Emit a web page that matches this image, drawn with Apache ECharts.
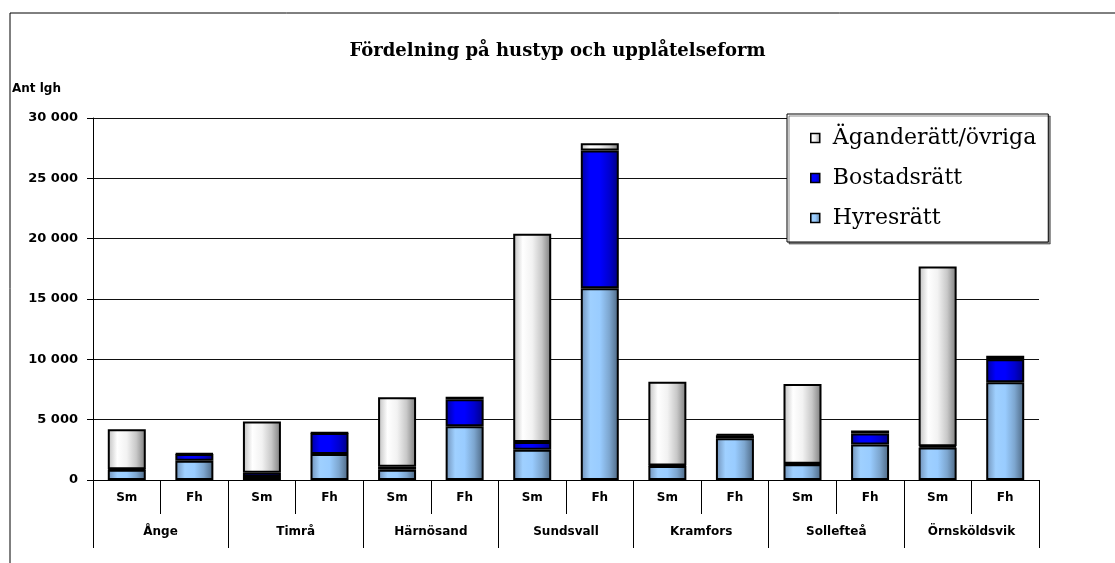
<!DOCTYPE html>
<html>
<head>
<meta charset="utf-8">
<script src="https://cdn.jsdelivr.net/npm/echarts@6/dist/echarts.min.js"></script>
<style>
  html, body { margin: 0; padding: 0; background: #fff; }
  #chart { width: 1115px; height: 563px; }
</style>
</head>
<body>
<div id="chart"></div>
<script>
  // kommuner och hustyp (Sm = småhus, Fh = flerbostadshus)
  var towns = ['Ånge', 'Timrå', 'Härnösand', 'Sundsvall', 'Kramfors', 'Sollefteå', 'Örnsköldsvik']
  var houseTypes = ['Sm', 'Fh', 'Sm', 'Fh', 'Sm', 'Fh', 'Sm', 'Fh', 'Sm', 'Fh', 'Sm', 'Fh', 'Sm', 'Fh']
  var hyresratt = [850, 1600, 250, 2150, 850, 4450, 2500, 15900, 1150, 3450, 1300, 2950, 2700, 8100]
  var bostadsratt = [50, 550, 350, 1750, 250, 2250, 650, 11400, 50, 250, 50, 900, 100, 1900]
  var agande = [3300, 50, 4250, 30, 5750, 200, 17250, 600, 6950, 100, 6600, 250, 14900, 300]
  var yTicks = [0, 5000, 10000, 15000, 20000, 25000, 30000]

  var sans = 'DejaVu Sans'
  var serif = 'DejaVu Serif'

  function grad(stops) {
    return new echarts.graphic.LinearGradient(0, 0, 1, 0, stops.map(function (c, i) {
      return { offset: i / (stops.length - 1), color: c }
    }))
  }

  var chart = echarts.init(document.getElementById('chart'))
  var option = {
    animation: false,
    backgroundColor: '#fff',
    title: {
      text: 'Fördelning på hustyp och upplåtelseform',
      left: 'center',
      top: 37,
      textStyle: { fontFamily: serif, fontSize: 18, fontWeight: 'bold', color: '#000' }
    },
    graphic: [
      { type: 'rect', shape: { x: 10, y: 13, width: 1200, height: 600 }, style: { fill: 'none', stroke: '#000', lineWidth: 1 } },
      { type: 'text', left: 12, top: 83, style: { text: 'Ant lgh', font: 'bold 12px ' + sans, fill: '#000' } }
    ],
    legend: {
      orient: 'vertical',
      left: 787,
      top: 114,
      padding: [13, 12, 13, 23],
      itemGap: 18,
      itemWidth: 9,
      itemHeight: 9,
      backgroundColor: '#fff',
      borderColor: '#000',
      borderWidth: 1,
      shadowColor: 'rgba(0,0,0,0.45)',
      shadowOffsetX: 2,
      shadowOffsetY: 2,
      icon: 'rect',
      itemStyle: { borderColor: '#000', borderWidth: 1.5 },
      textStyle: { fontFamily: serif, fontSize: 22, lineHeight: 22, color: '#000', padding: [0, 0, 0, 8] },
      data: ['Äganderätt/övriga', 'Bostadsrätt', 'Hyresrätt']
    },
    grid: { left: 93, right: 76, top: 118, bottom: 83 },
    xAxis: [
      {
        type: 'category',
        data: houseTypes,
        position: 'bottom',
        axisLine: { show: true, lineStyle: { color: '#000', width: 1 } },
        axisTick: { show: true, length: 34, interval: 0, lineStyle: { color: '#000' } },
        axisLabel: { interval: 0, margin: 12, fontFamily: sans, fontSize: 12, fontWeight: 'bold', color: '#000' }
      },
      {
        type: 'category',
        data: towns,
        position: 'bottom',
        axisLine: { show: false },
        axisTick: { show: true, length: 68, interval: 0, lineStyle: { color: '#000' } },
        axisLabel: { interval: 0, margin: 46, fontFamily: sans, fontSize: 12, fontWeight: 'bold', color: '#000' }
      }
    ],
    yAxis: {
      type: 'value',
      min: yTicks[0],
      max: yTicks[yTicks.length - 1],
      interval: 5000,
      axisLine: { show: true, lineStyle: { color: '#000' } },
      axisTick: { show: true, length: 6, lineStyle: { color: '#000' } },
      splitLine: { lineStyle: { color: '#111', width: 1 } },
      axisLabel: {
        margin: 15,
        fontFamily: sans, fontSize: 13, fontWeight: 'bold', color: '#000',
        formatter: function (v) { return String(v).replace(/\B(?=(\d{3})+(?!\d))/g, ' ') }
      }
    },
    series: [
      {
        name: 'Hyresrätt', type: 'bar', stack: 'tot', barWidth: 38, xAxisIndex: 0,
        itemStyle: { color: grad(['#6f8fb5', '#9fd0ff', '#99ccff', '#7da6cf', '#4b6580']), borderColor: '#000', borderWidth: 2 },
        data: hyresratt
      },
      {
        name: 'Bostadsrätt', type: 'bar', stack: 'tot', barWidth: 38, xAxisIndex: 0,
        itemStyle: { color: grad(['#00009a', '#0000ff', '#0000ff', '#0000d0', '#000080']), borderColor: '#000', borderWidth: 2 },
        data: bostadsratt
      },
      {
        name: 'Äganderätt/övriga', type: 'bar', stack: 'tot', barWidth: 38, xAxisIndex: 0,
        itemStyle: { color: grad(['#bdbdbd', '#ffffff', '#f2f2f2', '#c8c8c8', '#7a7a7a']), borderColor: '#000', borderWidth: 2 },
        data: agande
      }
    ]
  }
  chart.setOption(option)
</script>
</body>
</html>
